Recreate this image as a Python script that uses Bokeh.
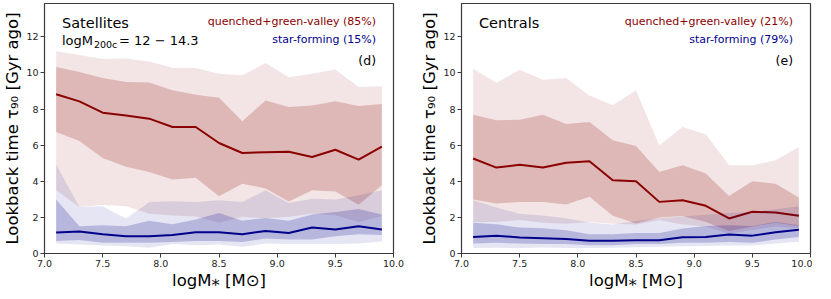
from bokeh.plotting import figure
from bokeh.models import Label
from bokeh.layouts import row
from bokeh.embed import file_html
from bokeh.resources import INLINE

# ---------------- data ----------------
logm = [7.1, 7.3, 7.5, 7.7, 7.9, 8.1, 8.3, 8.5, 8.7, 8.9, 9.1, 9.3, 9.5, 9.7, 9.9]

# Satellites, quenched + green-valley
sat_q_p90 = [11.2, 11.0, 10.77, 10.8, 10.64, 10.29, 10.27, 9.96, 9.87, 10.55, 9.77, 9.96, 10.2, 9.22, 9.26]
sat_q_p75 = [10.33, 10.05, 9.72, 9.5, 9.48, 9.04, 8.8, 8.63, 7.32, 8.48, 8.11, 8.2, 8.43, 8.17, 8.28]
sat_q_med = [8.82, 8.43, 7.8, 7.65, 7.47, 7.01, 7.01, 6.12, 5.57, 5.61, 5.64, 5.35, 5.75, 5.2, 5.92]
sat_q_p25 = [6.73, 6.23, 5.29, 4.8, 4.52, 4.1, 4.2, 3.17, 3.87, 3.6, 2.88, 3.5, 3.43, 2.7, 3.78]
sat_q_p10 = [3.5, 2.58, 2.69, 2.62, 2.2, 2.1, 2.05, 1.7, 2.03, 1.95, 2.03, 2.2, 2.12, 1.75, 2.07]
# Satellites, star-forming
sat_sf_p90 = [4.93, 2.58, 2.62, 1.94, 2.86, 2.9, 2.86, 2.95, 2.86, 3.5, 2.8, 3.04, 2.99, 3.23, 3.5]
sat_sf_p75 = [2.99, 1.51, 1.57, 1.51, 1.81, 1.62, 1.88, 2.25, 1.81, 1.97, 1.81, 2.16, 2.3, 2.47, 2.16]
sat_sf_med = [1.16, 1.22, 1.07, 0.96, 0.96, 1.03, 1.18, 1.18, 1.07, 1.25, 1.14, 1.44, 1.33, 1.51, 1.33]
sat_sf_p25 = [0.69, 0.75, 0.59, 0.59, 0.59, 0.64, 0.69, 0.69, 0.64, 0.83, 0.77, 0.77, 0.96, 1.07, 1.02]
sat_sf_p10 = [0.55, 0.5, 0.44, 0.4, 0.32, 0.52, 0.46, 0.5, 0.37, 0.55, 0.52, 0.52, 0.52, 0.55, 0.66]

# Centrals, quenched + green-valley
cen_q_p90 = [10.23, 9.46, 10.18, 9.62, 9.72, 8.76, 8.21, 9.04, 6.0, 7.01, 6.6, 4.89, 4.89, 5.16, 5.9]
cen_q_p75 = [7.69, 7.38, 7.41, 7.69, 7.17, 7.28, 6.27, 5.96, 4.52, 4.89, 4.43, 3.19, 4.0, 3.87, 3.1]
cen_q_med = [5.26, 4.76, 4.92, 4.76, 5.03, 5.11, 4.06, 4.0, 2.86, 2.95, 2.64, 1.94, 2.31, 2.27, 2.09]
cen_q_p25 = [2.99, 2.77, 2.86, 2.86, 2.71, 3.14, 2.09, 1.66, 2.0, 2.08, 1.75, 1.25, 1.5, 1.7, 1.52]
cen_q_p10 = [1.75, 1.75, 1.85, 1.7, 1.65, 1.75, 1.65, 1.6, 1.85, 1.6, 1.5, 1.1, 1.3, 1.5, 1.4]
# Centrals, star-forming
cen_sf_p90 = [2.95, 2.55, 2.2, 2.1, 1.95, 1.72, 1.6, 1.8, 1.95, 2.05, 2.15, 2.25, 2.3, 2.45, 2.62]
cen_sf_p75 = [1.7, 1.62, 1.44, 1.4, 1.29, 1.07, 1.07, 1.14, 1.14, 1.38, 1.52, 1.57, 1.52, 1.75, 1.57]
cen_sf_med = [0.92, 0.98, 0.89, 0.85, 0.8, 0.7, 0.7, 0.74, 0.74, 0.9, 0.92, 1.05, 0.99, 1.18, 1.31]
cen_sf_p25 = [0.55, 0.59, 0.55, 0.52, 0.52, 0.46, 0.46, 0.52, 0.52, 0.59, 0.6, 0.64, 0.6, 0.77, 0.92]
cen_sf_p10 = [0.3, 0.32, 0.3, 0.33, 0.3, 0.3, 0.32, 0.35, 0.38, 0.4, 0.42, 0.45, 0.45, 0.55, 0.65]

x_ticks = [7.0, 7.5, 8.0, 8.5, 9.0, 9.5, 10.0]
y_ticks = [0, 2, 4, 6, 8, 10, 12]

panels = [
    dict(title="Satellites", q_text="quenched+green-valley (85%)", sf_text="star-forming (15%)", tag="(d)",
         q=(sat_q_p10, sat_q_p25, sat_q_med, sat_q_p75, sat_q_p90),
         sf=(sat_sf_p10, sat_sf_p25, sat_sf_med, sat_sf_p75, sat_sf_p90), halo=True),
    dict(title="Centrals", q_text="quenched+green-valley (21%)", sf_text="star-forming (79%)", tag="(e)",
         q=(cen_q_p10, cen_q_p25, cen_q_med, cen_q_p75, cen_q_p90),
         sf=(cen_sf_p10, cen_sf_p25, cen_sf_med, cen_sf_p75, cen_sf_p90), halo=False),
]

FONT = "DejaVu Sans"
RED = "#8b0000"
BLUE = "#00008b"
AX = "#3a3a3a"


def make_panel(d, left_border, right_border):
    p = figure(frame_width=349, frame_height=250, x_range=(7.0, 10.0), y_range=(0, 13.85),
               output_backend="svg", toolbar_location=None,
               min_border_left=left_border, min_border_right=right_border,
               min_border_top=3, min_border_bottom=0)
    p.background_fill_color = "white"
    p.border_fill_color = "white"
    p.xgrid.visible = False
    p.ygrid.visible = False
    p.outline_line_color = AX
    p.outline_line_width = 1.2

    for color, (p10, p25, med, p75, p90) in ((RED, d["q"]), (BLUE, d["sf"])):
        p.varea(x=logm, y1=p10, y2=p90, fill_color=color, fill_alpha=0.1)
        p.varea(x=logm, y1=p25, y2=p75, fill_color=color, fill_alpha=0.2)
        p.line(x=logm, y=med, line_color=color, line_width=2)

    for ax in (p.xaxis[0], p.yaxis[0]):
        ax.axis_line_color = AX
        ax.major_tick_line_color = AX
        ax.major_tick_in = 0
        ax.major_tick_out = 4
        ax.minor_tick_line_color = None
        ax.major_label_text_font = FONT
        ax.major_label_text_font_size = "9.5px"
        ax.major_label_text_color = "#222"
        ax.major_label_standoff = 2
        ax.axis_label_text_font = FONT
        ax.axis_label_text_font_style = "normal"
        ax.axis_label_text_font_size = "16.5px"
        ax.axis_label_text_color = "black"
        ax.axis_label_standoff = 1

    p.xaxis.ticker = x_ticks
    p.xaxis.major_label_overrides = {t: f"{t:.1f}" for t in x_ticks}
    p.yaxis.ticker = y_ticks
    p.xaxis.axis_label = "logM\u204e [M\u2299]"
    p.yaxis.axis_label = "Lookback time \u03c4\u2089\u2080 [Gyr ago]"

    p.add_layout(Label(x=7.15, y=12.76, text=d["title"], text_font=FONT, text_font_size="14.5px",
                       text_baseline="middle", text_color="black"))
    if d["halo"]:
        p.add_layout(Label(x=7.15, y=11.8, text="logM", text_font=FONT, text_font_size="13px",
                           text_baseline="middle", text_color="black"))
        p.add_layout(Label(x=7.15, y=11.8, x_offset=32, y_offset=-4, text="200c", text_font=FONT,
                           text_font_size="9.5px", text_baseline="middle", text_color="black"))
        p.add_layout(Label(x=7.15, y=11.8, x_offset=57, text="= 12 \u2212 14.3", text_font=FONT,
                           text_font_size="13px", text_baseline="middle", text_color="black"))
    p.add_layout(Label(x=9.85, y=12.87, text=d["q_text"], text_font=FONT, text_font_size="11px",
                       text_align="right", text_baseline="middle", text_color=RED))
    p.add_layout(Label(x=9.85, y=11.84, text=d["sf_text"], text_font=FONT, text_font_size="11px",
                       text_align="right", text_baseline="middle", text_color=BLUE))
    p.add_layout(Label(x=9.85, y=10.7, text=d["tag"], text_font=FONT, text_font_size="12.5px",
                       text_align="right", text_baseline="middle", text_color="black"))
    return p


p1 = make_panel(panels[0], 34, 24)
p2 = make_panel(panels[1], 38, 2)
layout = row(p1, p2)

open("out.html", "w").write(file_html(layout, INLINE))
